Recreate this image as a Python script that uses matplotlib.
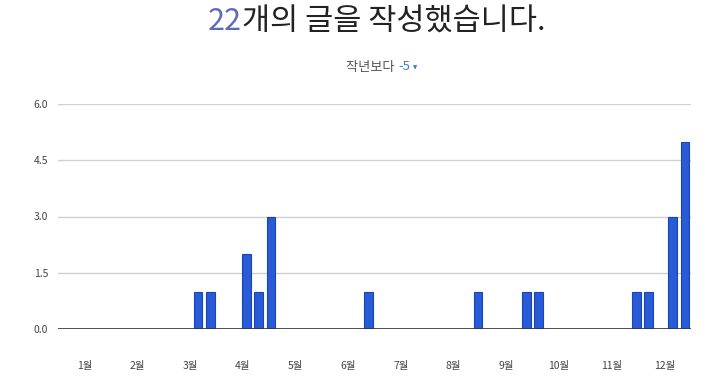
import matplotlib
matplotlib.use("Agg")
import matplotlib.pyplot as plt

plt.rcParams['font.family'] = ['Noto Sans CJK KR', 'DejaVu Sans']

# ====================================
# DATA
# ====================================

total_posts = 22
diff_last_year = -5

# week index (0-51) with posts, and post counts
post_weeks = [11, 12, 15, 16, 17, 25, 34, 38, 39, 47, 48, 50, 51]
post_counts = [1, 1, 2, 1, 3, 1, 1, 1, 1, 1, 1, 3, 5]

month_labels = ["1월", "2월", "3월", "4월", "5월", "6월",
                "7월", "8월", "9월", "10월", "11월", "12월"]
y_ticks = [0.0, 1.5, 3.0, 4.5, 6.0]

N_WEEKS = 52

# ====================================
# FIGURE
# ====================================

fig = plt.figure(figsize=(7.2, 3.84), dpi=100)
ax = fig.add_axes([58 / 720, 55 / 384, 633 / 720, 225 / 384])

ax.bar([w + 0.5 for w in post_weeks], post_counts, width=0.72,
       color="#2a5bd7", edgecolor="#1744b8", linewidth=0.8, zorder=3)

ax.set_xlim(0, N_WEEKS)
ax.set_ylim(0, 6)

month_pos = [(m + 0.5) * N_WEEKS / 12 for m in range(12)]
ax.set_xticks(month_pos)
ax.set_xticklabels(month_labels, fontsize=7.5, color="#444444")
ax.set_yticks(y_ticks)
ax.set_yticklabels([f"{v:.1f}" for v in y_ticks], fontsize=7.5, color="#444444")
ax.tick_params(axis="x", length=0, pad=23)
ax.tick_params(axis="y", length=0, pad=7)

ax.grid(axis="y", color="#d0d0d0", linewidth=1.0, zorder=0)
ax.axhline(0, color="#333333", linewidth=1.2, zorder=4)
for s in ax.spines.values():
    s.set_visible(False)

# ====================================
# TITLE
# ====================================

ty = 1 - 22 / 384
fig.text(242 / 720, ty, str(total_posts), ha="right", va="center",
         fontsize=22, color="#5c6bc0", fontweight="light")
fig.text(242 / 720, ty, "개의 글을 작성했습니다.", ha="left", va="center",
         fontsize=22, color="#222222", fontweight="light")

sy = 1 - 67 / 384
fig.text(397 / 720, sy, "작년보다 ", ha="right", va="center",
         fontsize=9.5, color="#555555")
fig.text(398 / 720, sy, f"{diff_last_year}", ha="left", va="center",
         fontsize=9.5, color="#3a78d6")
fig.text(413 / 720, sy - 0.002, "▼", ha="left", va="center",
         fontsize=4, color="#3a78d6", family="DejaVu Sans")

fig.savefig("out.png", dpi=100)
